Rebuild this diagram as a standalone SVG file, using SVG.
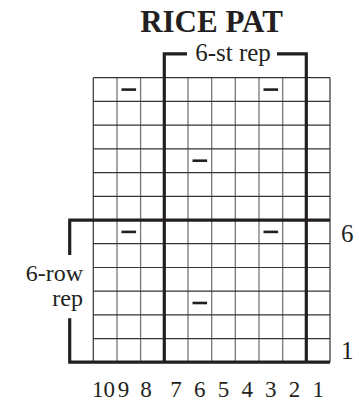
<svg xmlns="http://www.w3.org/2000/svg" width="359" height="400" viewBox="0 0 359 400">
<style>
text{font-family:"Liberation Serif","Times New Roman",serif;fill:#231f20}
.vl{stroke:#777;stroke-width:1.3}
.hl{stroke:#333;stroke-width:1.2}
.bd{stroke:#231f20;stroke-width:3.2;fill:none}
.dash{fill:#231f20}
.lb{font-size:25px}
.cn{font-size:23px;text-anchor:middle}
</style>
<rect width="359" height="400" fill="#fff"/>
<g id="title"><text x="211.5" y="32" font-size="31" font-weight="bold" text-anchor="middle">RICE PAT</text></g>
<g id="grid">
<g class="vl">
<line x1="117" y1="77.7" x2="117" y2="362.3"/>
<line x1="140.6" y1="77.7" x2="140.6" y2="362.3"/>
<line x1="188" y1="77.7" x2="188" y2="362.3"/>
<line x1="211.65" y1="77.7" x2="211.65" y2="362.3"/>
<line x1="235.3" y1="77.7" x2="235.3" y2="362.3"/>
<line x1="259" y1="77.7" x2="259" y2="362.3"/>
<line x1="282.7" y1="77.7" x2="282.7" y2="362.3"/>
</g>
<g class="hl">
<line x1="93.3" y1="77.7" x2="93.3" y2="362.3"/>
<line x1="93.3" y1="77.7" x2="330" y2="77.7"/>
<line x1="93.3" y1="101.4" x2="330" y2="101.4"/>
<line x1="93.3" y1="125.1" x2="330" y2="125.1"/>
<line x1="93.3" y1="148.9" x2="330" y2="148.9"/>
<line x1="93.3" y1="172.6" x2="330" y2="172.6"/>
<line x1="93.3" y1="196.3" x2="330" y2="196.3"/>
<line x1="93.3" y1="243.7" x2="330" y2="243.7"/>
<line x1="93.3" y1="267.5" x2="330" y2="267.5"/>
<line x1="93.3" y1="291.2" x2="330" y2="291.2"/>
<line x1="93.3" y1="314.9" x2="330" y2="314.9"/>
<line x1="93.3" y1="338.6" x2="330" y2="338.6"/>
<line x1="330" y1="77.7" x2="330" y2="362.3"/>
</g>
</g>
<g id="repeats">
<path class="bd" d="M164.3 362.3V53.8H187M277 53.8H306.3V362.3"/>
<path class="bd" d="M68.2 220.2H330M69.7 220.2V255M69.7 318.3V362.2M68.2 362.2H330"/>
</g>
<g id="purls">
<rect class="dash" x="121.5" y="88.3" width="14.6" height="2.6"/>
<rect class="dash" x="263.5" y="88.3" width="14.6" height="2.6"/>
<rect class="dash" x="192.5" y="159.4" width="14.6" height="2.6"/>
<rect class="dash" x="121.5" y="230.6" width="14.6" height="2.6"/>
<rect class="dash" x="263.5" y="230.6" width="14.6" height="2.6"/>
<rect class="dash" x="192.5" y="301.7" width="14.6" height="2.6"/>
</g>
<g id="labels">
<text class="lb" x="233" y="60.5" text-anchor="middle">6-st rep</text>
<text x="83" y="280.5" font-size="24" text-anchor="end">6-row</text>
<text x="83" y="305.5" font-size="24" text-anchor="end">rep</text>
<text class="lb" x="341" y="241.5">6</text>
<text class="lb" x="341" y="359.3">1</text>
</g>
<g id="colnums">
<text class="cn" x="103.5" y="396.5">10</text>
<text class="cn" x="123.5" y="396.5">9</text>
<text class="cn" x="146" y="396.5">8</text>
<text class="cn" x="176.1" y="396.5">7</text>
<text class="cn" x="199.8" y="396.5">6</text>
<text class="cn" x="223.5" y="396.5">5</text>
<text class="cn" x="247.2" y="396.5">4</text>
<text class="cn" x="270.8" y="396.5">3</text>
<text class="cn" x="294.5" y="396.5">2</text>
<text class="cn" x="318.2" y="396.5">1</text>
</g>
</svg>
